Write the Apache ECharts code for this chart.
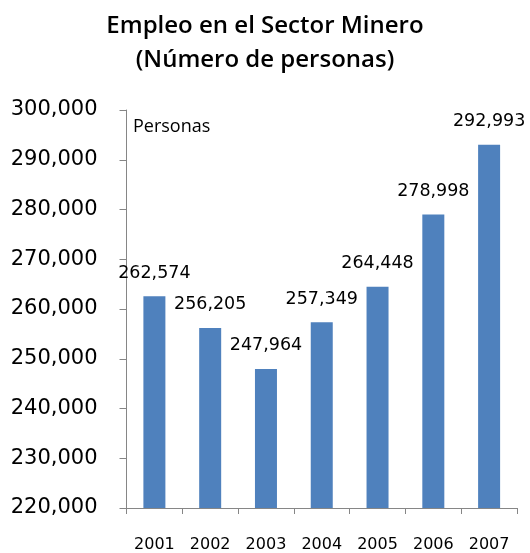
<!DOCTYPE html>
<html>
<head>
<meta charset="utf-8">
<script src="https://cdn.jsdelivr.net/npm/echarts@6/dist/echarts.min.js"></script>
<style>
  html, body { margin: 0; padding: 0; background: #fff; }
  #chart { width: 530px; height: 553px; }
</style>
</head>
<body>
<div id="chart"></div>
<script>
// datos
const years = ["2001", "2002", "2003", "2004", "2005", "2006", "2007"];
const personas = [262574, 256205, 247964, 257349, 264448, 278998, 292993];
const yTicks = { min: 220000, max: 300000, step: 10000 };

const fmt = (v) => String(v).replace(/\B(?=(\d{3})+(?!\d))/g, ",");

const chart = echarts.init(document.getElementById("chart"));

const option = {
  backgroundColor: "#fff",
  animation: false,
  title: {
    text: "Empleo en el Sector Minero\n(Número de personas)",
    left: "center",
    top: 4,
    textStyle: {
      fontFamily: "Open Sans",
      fontWeight: 600,
      fontSize: 24,
      lineHeight: 34,
      color: "#000",
    },
  },
  graphic: [
    {
      type: "text",
      left: 133,
      top: 118,
      style: {
        text: "Personas",
        fontFamily: "Open Sans",
        fontSize: 18,
        fill: "#000",
      },
    },
  ],
  grid: { left: 126.5, right: 13, top: 110, bottom: 43.5 },
  xAxis: {
    type: "category",
    data: years,
    axisLine: { lineStyle: { color: "#868686", width: 1 } },
    axisTick: { show: true, length: 6, lineStyle: { color: "#868686" } },
    axisLabel: {
      fontFamily: "DejaVu Sans",
      fontSize: 16,
      color: "#000",
      margin: 29,
      interval: 0,
    },
  },
  yAxis: {
    type: "value",
    min: yTicks.min,
    max: yTicks.max,
    interval: yTicks.step,
    splitLine: { show: false },
    axisLine: { show: true, lineStyle: { color: "#868686", width: 1 } },
    axisTick: { show: true, length: 7, lineStyle: { color: "#868686" } },
    axisLabel: {
      fontFamily: "DejaVu Sans",
      fontSize: 21,
      color: "#000",
      margin: 29,
      formatter: fmt,
    },
  },
  series: [
    {
      name: "Personas",
      type: "bar",
      data: personas,
      barWidth: 22,
      itemStyle: { color: "#4F81BD" },
      label: {
        show: true,
        position: "top",
        distance: 14,
        fontFamily: "DejaVu Sans",
        fontSize: 17.5,
        color: "#000",
        formatter: (p) => fmt(p.value),
      },
    },
  ],
};

chart.setOption(option);
</script>
</body>
</html>
